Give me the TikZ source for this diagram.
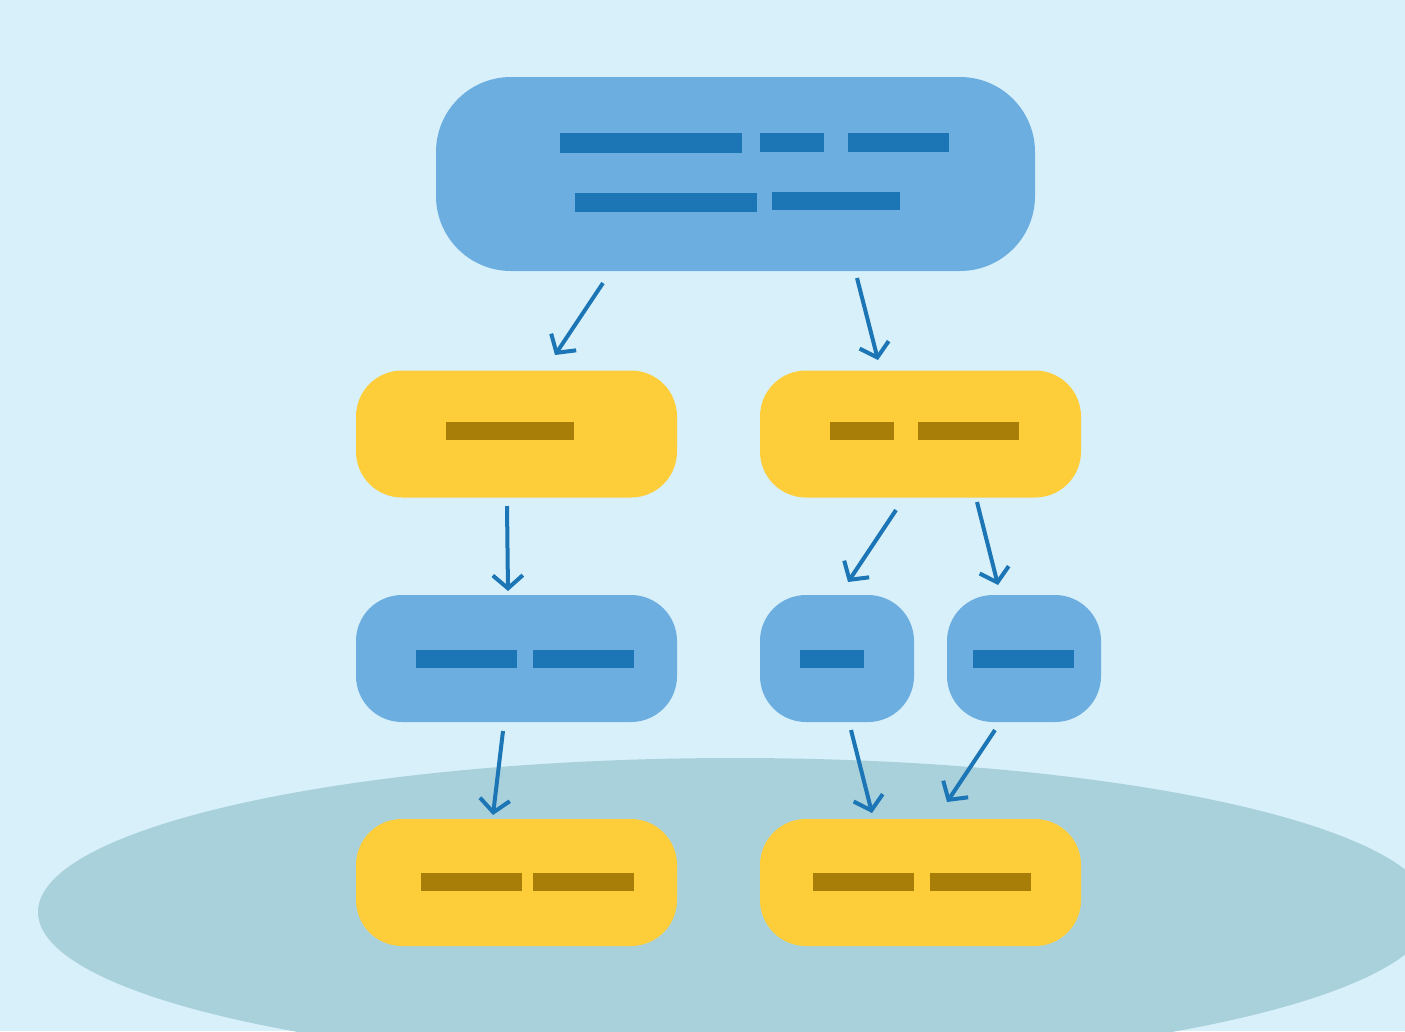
\documentclass[tikz,border=0pt]{standalone}
\usetikzlibrary{arrows.meta}
\definecolor{bgc}{HTML}{D8F0F9}
\definecolor{ellc}{HTML}{A9D1DC}
\definecolor{boxblue}{HTML}{6CAEE0}
\definecolor{darkblue}{HTML}{1C75B5}
\definecolor{boxyellow}{HTML}{FECE3A}
\definecolor{darkyellow}{HTML}{A97E08}
\tikzset{
  bluebox/.style={fill=boxblue, draw=none, rounded corners=46pt, inner sep=0pt, minimum height=127pt},
  yellowbox/.style={fill=boxyellow, draw=none, rounded corners=46pt, inner sep=0pt, minimum height=127pt},
  conn/.style={draw=darkblue, line width=4pt, -{Straight Barb[length=13pt,width=30pt,line width=4pt]}},
  bbar/.style={fill=darkblue},
  ybar/.style={fill=darkyellow}
}
\begin{document}
\begin{tikzpicture}[x=1pt,y=-1pt]
\fill[bgc] (0,0) rectangle (1405,1031);
\useasboundingbox (0,0) rectangle (1405,1031);
\begin{scope}
\clip (0,0) rectangle (1405,1031);
\fill[ellc] (735,912) ellipse [x radius=697, y radius=154];
\end{scope}
% nodes
\node[bluebox, minimum width=599pt, minimum height=194pt, rounded corners=75pt] (top) at (735.5,174) {};
\node[yellowbox, minimum width=321pt] (ml) at (516.5,434) {};
\node[yellowbox, minimum width=321pt] (mr) at (920.5,434) {};
\node[bluebox, minimum width=321pt] (bl) at (516.5,658.5) {};
\node[bluebox, minimum width=154pt] (bs1) at (837,658.5) {};
\node[bluebox, minimum width=154pt] (bs2) at (1024,658.5) {};
\node[yellowbox, minimum width=321pt] (yl) at (516.5,882.5) {};
\node[yellowbox, minimum width=321pt] (yr) at (920.5,882.5) {};
% bars (redacted text)
\fill[bbar] (560,133) rectangle (742,153);
\fill[bbar] (760,133) rectangle (824,152);
\fill[bbar] (848,133) rectangle (949,152);
\fill[bbar] (575,193) rectangle (757,212);
\fill[bbar] (772,192) rectangle (900,210);
\fill[ybar] (446,422) rectangle (574,440);
\fill[ybar] (830,422) rectangle (894,440);
\fill[ybar] (918,422) rectangle (1019,440);
\fill[bbar] (416,650) rectangle (517,668);
\fill[bbar] (533,650) rectangle (634,668);
\fill[bbar] (800,650) rectangle (864,668);
\fill[bbar] (973,650) rectangle (1074,668);
\fill[ybar] (421,873) rectangle (522,891);
\fill[ybar] (533,873) rectangle (634,891);
\fill[ybar] (813,873) rectangle (914,891);
\fill[ybar] (930,873) rectangle (1031,891);
% connector endpoints
\coordinate (a1s) at (603,283); \coordinate (a1e) at (555,355);
\coordinate (a2s) at (857,278); \coordinate (a2e) at (878,360);
\coordinate (a3s) at (507,506); \coordinate (a3e) at (508,591);
\coordinate (a4s) at (896,510); \coordinate (a4e) at (848,582);
\coordinate (a5s) at (977,502); \coordinate (a5e) at (998,585);
\coordinate (a6s) at (503,731); \coordinate (a6e) at (493,815);
\coordinate (a7s) at (851,730); \coordinate (a7e) at (872,813);
\coordinate (a8s) at (995,730); \coordinate (a8e) at (947,802);
\draw[conn] (a1s) -- (a1e);
\draw[conn] (a2s) -- (a2e);
\draw[conn] (a3s) -- (a3e);
\draw[conn] (a4s) -- (a4e);
\draw[conn] (a5s) -- (a5e);
\draw[conn] (a6s) -- (a6e);
\draw[conn] (a7s) -- (a7e);
\draw[conn] (a8s) -- (a8e);
\end{tikzpicture}
\end{document}
